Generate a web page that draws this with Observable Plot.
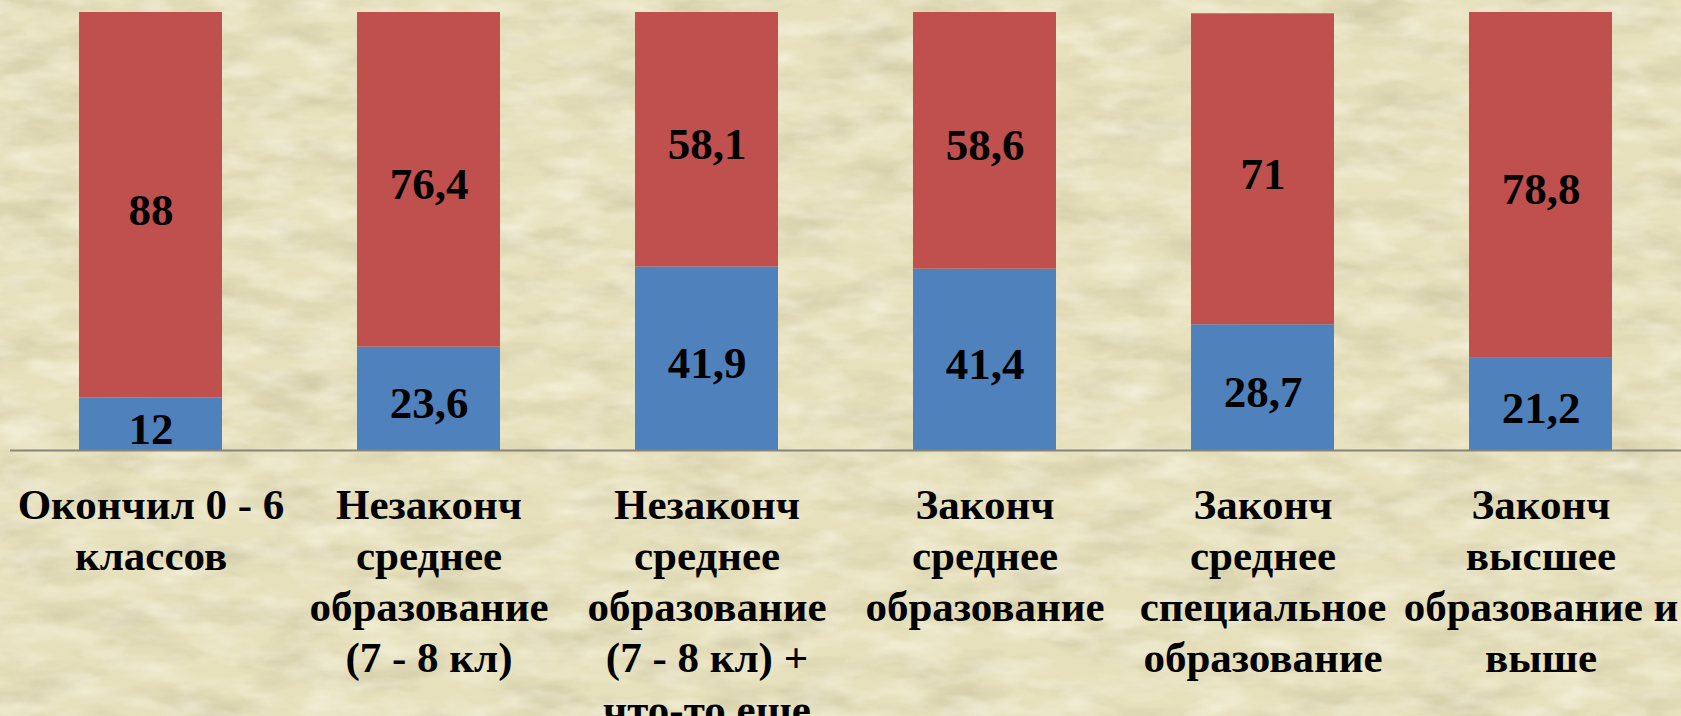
<!DOCTYPE html>
<html>
<head>
<meta charset="utf-8">
<script src="https://cdn.jsdelivr.net/npm/d3@7"></script>
<script src="https://cdn.jsdelivr.net/npm/@observablehq/plot@0.6"></script>
<style>
  html, body { margin: 0; padding: 0; overflow: hidden; background: #e9e3c2; }
  #wrap { position: relative; width: 1681px; height: 716px; overflow: hidden; }
  #bg { position: absolute; left: 0; top: 0; }
  #chart { position: absolute; left: 0; top: 0; }
  #chart svg { background: transparent; overflow: hidden; }
  #chart svg text { font-family: "Liberation Serif", "Times New Roman", serif; }
</style>
</head>
<body>
<div id="wrap">
  <svg id="bg" width="1681" height="716" xmlns="http://www.w3.org/2000/svg">
    <defs>
      <filter id="texDark" x="0" y="0" width="100%" height="100%">
        <feTurbulence type="fractalNoise" baseFrequency="0.012 0.035" numOctaves="4" seed="7"/>
        <feColorMatrix type="matrix" values="0 0 0 0 0.6  0 0 0 0 0.56  0 0 0 0 0.36  1.7 0 0 0 -0.74"/>
      </filter>
      <filter id="texLight" x="0" y="0" width="100%" height="100%">
        <feTurbulence type="fractalNoise" baseFrequency="0.02 0.05" numOctaves="3" seed="21"/>
        <feColorMatrix type="matrix" values="0 0 0 0 0.97  0 0 0 0 0.95  0 0 0 0 0.84  1.5 0 0 0 -0.6"/>
      </filter>
    </defs>
    <rect width="1681" height="716" fill="#e6e0bc"/>
    <rect width="1681" height="716" filter="url(#texDark)" opacity="0.9"/>
    <rect width="1681" height="716" filter="url(#texLight)" opacity="0.75"/>
  </svg>
  <div id="chart"></div>
</div>
<script>
const categories = [
  "Окончил 0 - 6\nклассов",
  "Незаконч\nсреднее\nобразование\n(7 - 8 кл)",
  "Незаконч\nсреднее\nобразование\n(7 - 8 кл) +\nчто-то еще",
  "Законч\nсреднее\nобразование",
  "Законч\nсреднее\nспециальное\nобразование",
  "Законч\nвысшее\nобразование и\nвыше"
];
const seriesNames = ["Ряд 1", "Ряд 2"];
const series1Values = [12, 23.6, 41.9, 41.4, 28.7, 21.2];
const series2Values = [88, 76.4, 58.1, 58.6, 71, 78.8];
const seriesColors = ["#4f81bd", "#c0504d"];

const data = [];
categories.forEach((c, i) => {
  data.push({cat: c, series: seriesNames[0], value: series1Values[i]});
  data.push({cat: c, series: seriesNames[1], value: series2Values[i]});
});
const fmt = v => String(v).replace(".", ",");
const FONT = "'Liberation Serif', 'Times New Roman', serif";

const plot = Plot.plot({
  width: 1681,
  height: 716,
  marginTop: 12,
  marginBottom: 266,
  marginLeft: 10,
  marginRight: 0,
  style: {background: "transparent", fontFamily: FONT},
  x: {domain: categories, paddingInner: 0.487, paddingOuter: 0.2435, label: null},
  y: {domain: [0, 100], axis: null},
  color: {domain: seriesNames, range: seriesColors},
  marks: [
    Plot.barY(data, {x: "cat", y: "value", fill: "series", order: seriesNames}),
    Plot.text(data, Plot.stackY({x: "cat", y: "value", z: "series", order: seriesNames,
      text: d => fmt(d.value), fontSize: 45, fontWeight: "bold", fill: "#000",
      fontFamily: FONT, dy: 5})),
    Plot.ruleY([0], {stroke: "#85857c", strokeWidth: 2}),
    Plot.axisX({tickSize: 0, tickPadding: 32, fontSize: 43, fontWeight: "bold",
      fontFamily: FONT, lineHeight: 1.19, fill: "#000", label: null, textOverflow: null})
  ]
});
document.getElementById("chart").appendChild(plot);
</script>
</body>
</html>
